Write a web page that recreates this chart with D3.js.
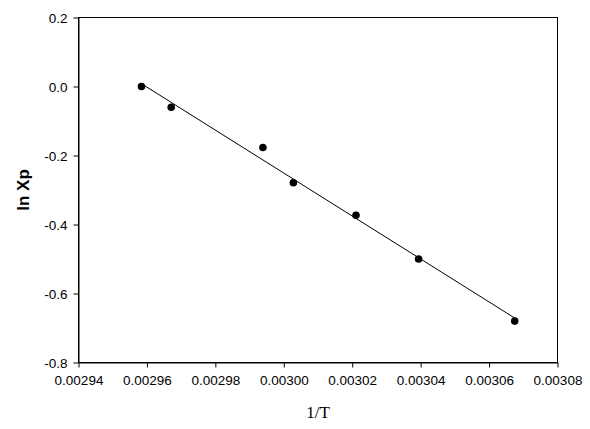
<!DOCTYPE html>
<html><head><meta charset="utf-8">
<script src="https://cdn.jsdelivr.net/npm/d3@7"></script>
<style>body{margin:0;background:#fff}svg{display:block}</style>
</head><body>
<svg id="c" width="590" height="429"></svg>
<script>
const invT = [0.0029584, 0.0029671, 0.0029939, 0.0030028, 0.0030211, 0.0030394, 0.0030675];
const lnXp = [0.000, -0.060, -0.177, -0.279, -0.373, -0.500, -0.680];
const xTicks = [0.00294, 0.00296, 0.00298, 0.00300, 0.00302, 0.00304, 0.00306, 0.00308];
const yTicks = [0.2, 0.0, -0.2, -0.4, -0.6, -0.8];
const xLabel = "1/T", yLabel = "ln Xp";

const svg = d3.select("#c");
const L = 78.5, R = 557.5, T = 17.5, B = 362.5;
const x = d3.scaleLinear().domain([0.00294, 0.00308]).range([L, R]);
const y = d3.scaleLinear().domain([-0.8, 0.2]).range([B, T]);

svg.append("rect").attr("x", L).attr("y", T).attr("width", R - L).attr("height", B - T)
  .attr("fill", "none").attr("stroke", "#000").attr("stroke-width", 1);

const tickFont = "'Liberation Sans', Arial, sans-serif";
const xa = svg.append("g").attr("transform", `translate(0,${B})`)
  .call(d3.axisBottom(x).tickValues(xTicks).tickFormat(d3.format(".5f")).tickSize(5).tickSizeOuter(0));
const ya = svg.append("g").attr("transform", `translate(${L},0)`)
  .call(d3.axisLeft(y).tickValues(yTicks).tickFormat(d3.format(".1f")).tickSize(5).tickSizeOuter(0));
[xa, ya].forEach(g => {
  g.select(".domain").attr("stroke", "#000");
  g.selectAll(".tick line").attr("stroke", "#000");
  g.selectAll("text").attr("fill", "#000").style("font-family", tickFont).style("font-size", "13.5px");
});
xa.selectAll("text").attr("dy", "0").attr("y", 22);
ya.selectAll("text").attr("x", -11).attr("dy", "0.35em");
ya.selectAll("text").text(d => d3.format(".1f")(d).replace("−", "-"));

// least squares fit
const mx = d3.mean(invT), my = d3.mean(lnXp);
const sxy = d3.sum(invT.map((v, i) => (v - mx) * (lnXp[i] - my)));
const sxx = d3.sum(invT.map(v => (v - mx) * (v - mx)));
const slope = sxy / sxx, icpt = my - slope * mx;
const xr = d3.extent(invT);
svg.append("line")
  .attr("x1", x(xr[0])).attr("y1", y(icpt + slope * xr[0]))
  .attr("x2", x(xr[1])).attr("y2", y(icpt + slope * xr[1]))
  .attr("stroke", "#000").attr("stroke-width", 1);

svg.selectAll("circle.pt").data(invT).enter().append("circle")
  .attr("class", "pt")
  .attr("cx", d => x(d)).attr("cy", (d, i) => y(lnXp[i])).attr("r", 3.8).attr("fill", "#000");

svg.append("text").attr("x", (L + R) / 2).attr("y", 418).attr("text-anchor", "middle")
  .style("font-family", "'Liberation Serif', 'Times New Roman', serif").style("font-size", "17px")
  .attr("fill", "#000").text(xLabel);
svg.append("text").attr("transform", `translate(29,${(T + B) / 2}) rotate(-90)`).attr("text-anchor", "middle")
  .style("font-family", tickFont).style("font-size", "17px").style("font-weight", "bold")
  .attr("fill", "#000").text(yLabel);
</script>
</body></html>
